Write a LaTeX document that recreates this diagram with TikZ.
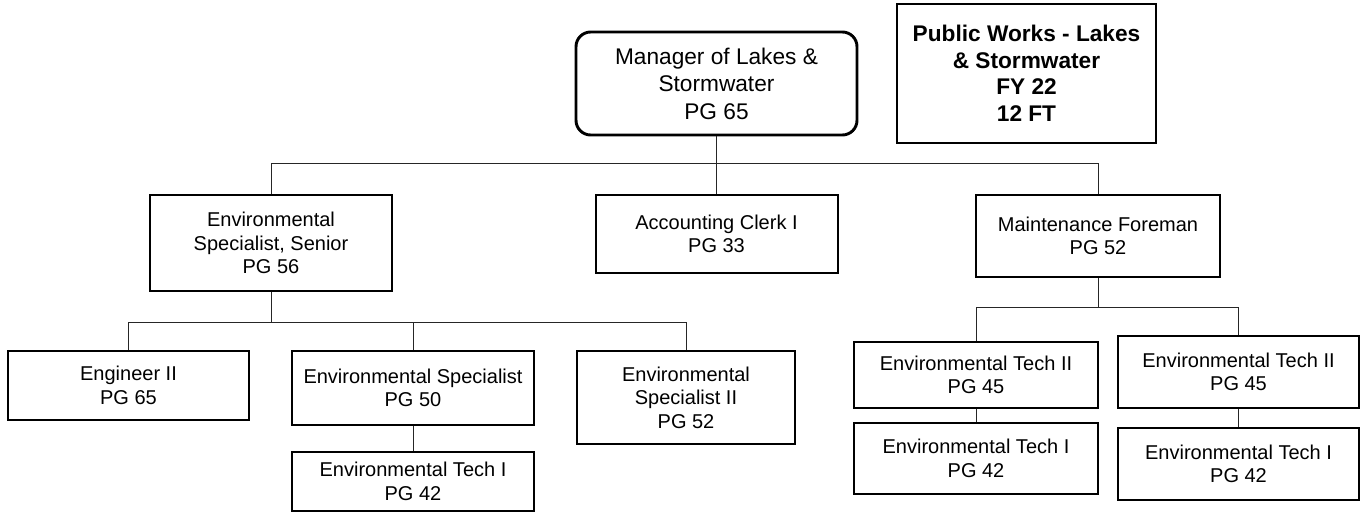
\documentclass[tikz,border=0pt]{standalone}
\usepackage{fontspec}
\setmainfont{Liberation Sans}
\usepackage{tikz}
\tikzset{
  sz/.style 2 args={minimum width=#1*0.75pt,minimum height=#2*0.75pt},
  oBox/.style={draw=black,line width=1.5pt,align=center,inner sep=2pt,
        font=\fontsize{15}{17.6}\selectfont},
  oThick/.style={oBox,line width=2.2pt},
  oHead/.style={oThick,rounded corners=11pt,font=\fontsize{17}{20.6}\selectfont},
  oNote/.style={oBox,font=\fontsize{17}{19.9}\selectfont\bfseries},
  oLink/.style={line width=.7pt,draw=black!85},
}
\begin{document}
\begin{tikzpicture}[x=0.75pt,y=-0.75pt]
\useasboundingbox (0,0) rectangle (1362,514);
% top
\node[oHead,sz={281}{103}]   (mgr)     at (716.5,83.5) {Manager of Lakes \&\\Stormwater\\PG 65};
\node[oNote,sz={259}{139}]   (pw)      at (1026.5,73.5) {Public Works - Lakes\\\& Stormwater\\FY 22\\12 FT};
% second row
\node[oBox,sz={242}{96}]     (senior)  at (271,243)   {Environmental\\Specialist, Senior\\PG 56};
\node[oBox,sz={242}{78}]     (clerk)   at (716.5,234) {Accounting Clerk I\\PG 33};
\node[oBox,sz={244}{82}]     (foreman) at (1098,236)  {Maintenance Foreman\\PG 52};
% third row, left
\node[oBox,sz={241}{69}]     (eng)     at (128.5,385.5) {Engineer II\\PG 65};
\node[oBox,sz={242}{74}]     (spec)    at (413,388)     {Environmental Specialist\\PG 50};
\node[oBox,sz={242}{59}]     (techL)   at (413,481.5)   {Environmental Tech I\\PG 42};
\node[oBox,sz={218}{93}]     (spec2)   at (686,397.5)   {Environmental\\Specialist II\\PG 52};
% third row, right
\node[oBox,sz={244}{66}]     (techIIa) at (976,375)     {Environmental Tech II\\PG 45};
\node[oBox,sz={241}{72}]     (techIIb) at (1238.5,372)  {Environmental Tech II\\PG 45};
\node[oThick,sz={244}{71}]   (techIa)  at (976,458.5)   {Environmental Tech I\\PG 42};
\node[oThick,sz={241}{72}]   (techIb)  at (1238.5,464)  {Environmental Tech I\\PG 42};

\draw[oLink] (mgr.south) -- (clerk.north);
\draw[oLink] (senior.north) -- ++(0,-31) -| (foreman.north);
\draw[oLink] (senior.south) -- ++(0,30) -| (eng.north);
\draw[oLink] (senior.south) -- ++(0,30) -| (spec.north);
\draw[oLink] (senior.south) -- ++(0,30) -| (spec2.north);
\draw[oLink] (spec.south) -- (techL.north);
\draw[oLink] (foreman.south) -- ++(0,29) -| (techIIa.north);
\draw[oLink] (foreman.south) -- ++(0,29) -| (techIIb.north);
\draw[oLink] (techIIa.south) -- (techIa.north);
\draw[oLink] (techIIb.south) -- (techIb.north);
\end{tikzpicture}
\end{document}
